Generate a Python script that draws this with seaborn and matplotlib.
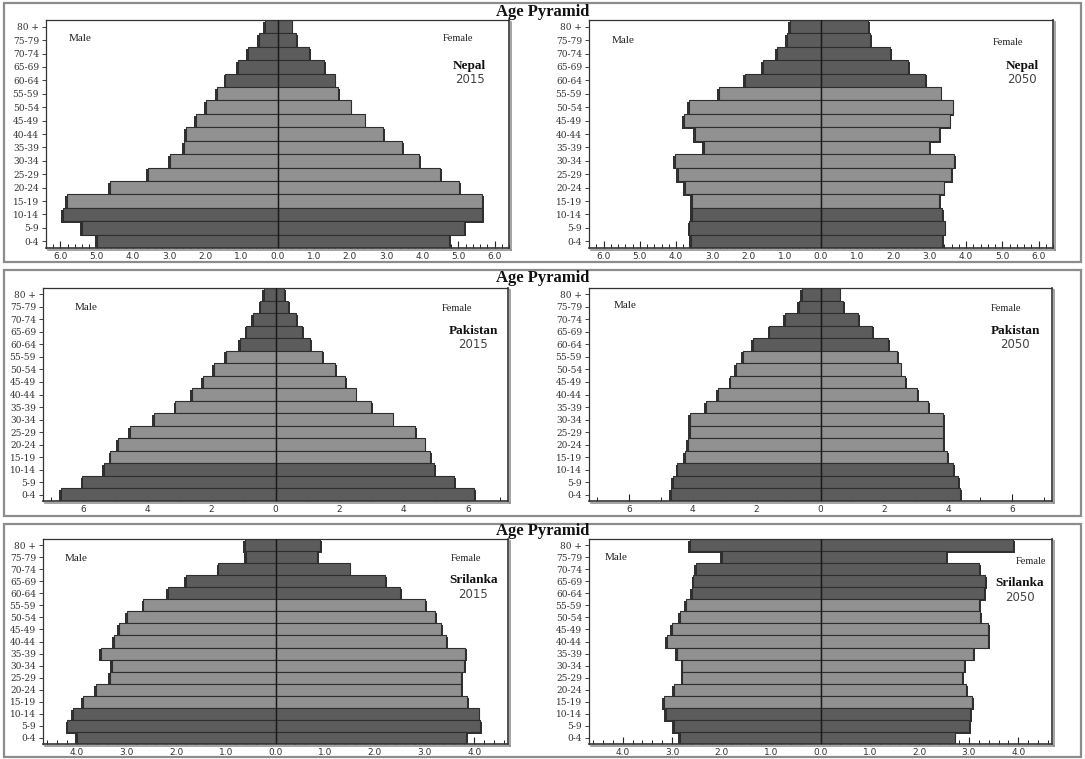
import numpy as np
import pandas as pd
import matplotlib
matplotlib.use("Agg")
import matplotlib.pyplot as plt
import matplotlib.patheffects as pe
from matplotlib.patches import Rectangle
from matplotlib.ticker import MultipleLocator, FuncFormatter
import seaborn as sns

# ---------------- data (bottom-up: 0-4 ... 80 +) ----------------
ages = ["0-4", "5-9", "10-14", "15-19", "20-24", "25-29", "30-34", "35-39", "40-44",
        "45-49", "50-54", "55-59", "60-64", "65-69", "70-74", "75-79", "80 +"]

nepal_2015_male = [5.00, 5.41, 5.94, 5.83, 4.63, 3.58, 2.98, 2.59, 2.54, 2.26, 1.99, 1.67, 1.44, 1.10, 0.81, 0.52, 0.35]
nepal_2015_female = [4.75, 5.15, 5.66, 5.66, 5.03, 4.50, 3.92, 3.44, 2.92, 2.41, 2.02, 1.67, 1.58, 1.28, 0.88, 0.51, 0.39]
nepal_2050_male = [3.58, 3.63, 3.56, 3.56, 3.76, 3.95, 4.02, 3.24, 3.47, 3.78, 3.65, 2.82, 2.09, 1.61, 1.22, 0.95, 0.85]
nepal_2050_female = [3.35, 3.41, 3.35, 3.26, 3.38, 3.58, 3.67, 2.98, 3.26, 3.55, 3.63, 3.30, 2.88, 2.40, 1.91, 1.35, 1.30]

pakistan_2015_male = [6.70, 6.02, 5.35, 5.15, 4.91, 4.55, 3.80, 3.12, 2.61, 2.26, 1.91, 1.54, 1.12, 0.91, 0.71, 0.47, 0.37]
pakistan_2015_female = [6.19, 5.58, 4.95, 4.81, 4.65, 4.36, 3.65, 2.98, 2.50, 2.16, 1.85, 1.46, 1.07, 0.84, 0.63, 0.40, 0.28]
pakistan_2050_male = [4.68, 4.63, 4.48, 4.25, 4.14, 4.10, 4.10, 3.60, 3.22, 2.82, 2.65, 2.43, 2.12, 1.60, 1.12, 0.68, 0.57]
pakistan_2050_female = [4.38, 4.30, 4.15, 3.96, 3.83, 3.83, 3.83, 3.36, 3.03, 2.66, 2.51, 2.40, 2.11, 1.62, 1.17, 0.72, 0.60]

srilanka_2015_male = [3.99, 4.19, 4.08, 3.88, 3.62, 3.33, 3.29, 3.51, 3.25, 3.15, 2.99, 2.66, 2.17, 1.81, 1.15, 0.60, 0.62]
srilanka_2015_female = [3.84, 4.12, 4.09, 3.85, 3.73, 3.73, 3.79, 3.82, 3.43, 3.34, 3.21, 3.01, 2.50, 2.21, 1.49, 0.83, 0.89]
srilanka_2050_male = [2.84, 2.97, 3.12, 3.16, 2.97, 2.79, 2.79, 2.91, 3.11, 3.01, 2.84, 2.72, 2.60, 2.57, 2.52, 1.99, 2.64]
srilanka_2050_female = [2.71, 3.01, 3.03, 3.07, 2.94, 2.86, 2.91, 3.08, 3.38, 3.38, 3.23, 3.20, 3.30, 3.33, 3.21, 2.54, 3.89]

countries = ["Nepal", "Pakistan", "Srilanka"]
years = ["2015", "2050"]

DARK = "#5c5c5c"
LIGHT = "#919191"
EDGE = "#2e2e2e"
dependent = {"0-4", "5-9", "10-14", "60-64", "65-69", "70-74", "75-79", "80 +"}
palette = {a: (DARK if a in dependent else LIGHT) for a in ages}

sns.set_theme(style="white")
plt.rcParams["font.family"] = ["DejaVu Sans"]

W, H = 1085, 759
fig = plt.figure(figsize=(W / 100, H / 100), dpi=100)
fig.patch.set_facecolor("white")

def fx(px):
    return px / W

def fy(py):
    return 1 - py / H

# panel layout in pixels: (x0, x1, y0, y1)
rows = [
    dict(box=(4, 1081, 3, 262), title_y=12, y=(20, 248), left=(46, 509), right=(589, 1053),
         xlim=6.4, major=1.0, minor=0.2, fmt="{:.1f}"),
    dict(box=(4, 1081, 270, 516), title_y=278, y=(288, 501), left=(43, 508), right=(589, 1052),
         xlim=7.25, major=2.0, minor=1.0, fmt="{:.0f}"),
    dict(box=(4, 1081, 524, 757), title_y=531, y=(539, 744), left=(43, 508), right=(589, 1052),
         xlim=4.68, major=1.0, minor=0.2, fmt="{:.1f}"),
]

data = {
    ("Nepal", "2015"): (nepal_2015_male, nepal_2015_female),
    ("Nepal", "2050"): (nepal_2050_male, nepal_2050_female),
    ("Pakistan", "2015"): (pakistan_2015_male, pakistan_2015_female),
    ("Pakistan", "2050"): (pakistan_2050_male, pakistan_2050_female),
    ("Srilanka", "2015"): (srilanka_2015_male, srilanka_2015_female),
    ("Srilanka", "2050"): (srilanka_2050_male, srilanka_2050_female),
}

# text placements (axes fraction) per panel
labels_pos = {
    ("Nepal", "2015"): dict(male=(0.074, 0.92), female=(0.89, 0.92), name=(0.915, 0.80), year=(0.915, 0.738)),
    ("Nepal", "2050"): dict(male=(0.073, 0.91), female=(0.903, 0.90), name=(0.933, 0.80), year=(0.933, 0.738)),
    ("Pakistan", "2015"): dict(male=(0.092, 0.91), female=(0.89, 0.905), name=(0.925, 0.80), year=(0.925, 0.733)),
    ("Pakistan", "2050"): dict(male=(0.078, 0.92), female=(0.90, 0.905), name=(0.92, 0.80), year=(0.92, 0.733)),
    ("Srilanka", "2015"): dict(male=(0.071, 0.907), female=(0.91, 0.907), name=(0.925, 0.80), year=(0.925, 0.73)),
    ("Srilanka", "2050"): dict(male=(0.058, 0.91), female=(0.955, 0.89), name=(0.93, 0.785), year=(0.93, 0.715)),
}

order_top_down = ages[::-1]

for country, row in zip(countries, rows):
    bx0, bx1, by0, by1 = row["box"]
    fig.add_artist(Rectangle((fx(bx0), fy(by1)), fx(bx1 - bx0), (by1 - by0) / H,
                             transform=fig.transFigure, fill=False, edgecolor="#8c8c8c", lw=1.6))
    fig.text(0.5, fy(row["title_y"]), "Age Pyramid", ha="center", va="center",
             fontsize=12, fontweight="bold", family="Liberation Serif", color="#111")
    for year, (px0, px1) in zip(years, [row["left"], row["right"]]):
        y0, y1 = row["y"]
        ax = fig.add_axes([fx(px0), fy(y1), fx(px1 - px0), (y1 - y0) / H])
        male, female = data[(country, year)]
        df = pd.DataFrame({"age": ages, "male": -np.array(male), "female": np.array(female)})
        for col, off in (("male", -1.3), ("female", 1.3)):
            n_before = len(ax.patches)
            sns.barplot(data=df, x=col, y="age", hue="age", order=order_top_down,
                        hue_order=order_top_down, palette=palette, legend=False,
                        orient="h", width=1.0, dodge=False, edgecolor=EDGE, linewidth=0.8,
                        saturation=1.0, ax=ax)
            for p in ax.patches[n_before:]:
                p.set_path_effects([pe.SimplePatchShadow(offset=(off, -1.3), shadow_rgbFace="#262626", alpha=0.95),
                                    pe.Normal()])
        ax.axvline(0, color="#1a1a1a", lw=1.0, zorder=5)
        lim = row["xlim"]
        ax.set_xlim(-lim, lim)
        ax.set_ylim(len(ages) - 0.5, -0.5)
        ax.set_xlabel("")
        ax.set_ylabel("")
        ax.xaxis.set_major_locator(MultipleLocator(row["major"]))
        ax.xaxis.set_minor_locator(MultipleLocator(row["minor"]))
        fmt = row["fmt"]
        ax.xaxis.set_major_formatter(FuncFormatter(lambda v, pos, f=fmt: f.format(abs(v) + 0.0)))
        ax.tick_params(axis="x", which="major", direction="in", length=5, width=0.8,
                       color="#222", labelsize=6.5, labelcolor="#333", pad=3, bottom=True)
        ax.tick_params(axis="x", which="minor", direction="in", length=3, width=0.7,
                       color="#222", bottom=True)
        ax.tick_params(axis="y", which="major", direction="out", length=3, width=0.7,
                       color="#444", labelsize=6.5, labelcolor="#333", pad=2, left=True)
        for lab in ax.get_yticklabels():
            lab.set_family("DejaVu Serif")
        for s in ax.spines.values():
            s.set_visible(True)
            s.set_color("#333")
            s.set_linewidth(0.9)
        for sname in ("right", "bottom"):
            ax.spines[sname].set_linewidth(1.2)
            ax.spines[sname].set_path_effects([pe.SimpleLineShadow(offset=(1.2, -1.2), shadow_color="#888", alpha=0.9),
                                               pe.Normal()])
        pos = labels_pos[(country, year)]
        ax.text(*pos["male"], "Male", transform=ax.transAxes, ha="center", va="center",
                fontsize=8, family="Liberation Serif", color="#222")
        ax.text(*pos["female"], "Female", transform=ax.transAxes, ha="center", va="center",
                fontsize=7.5, family="Liberation Serif", color="#222")
        ax.text(*pos["name"], country, transform=ax.transAxes, ha="center", va="center",
                fontsize=9.5, fontweight="bold", family="Liberation Serif", color="#111")
        ax.text(*pos["year"], year, transform=ax.transAxes, ha="center", va="center",
                fontsize=8.5, family="DejaVu Sans", color="#444")

fig.savefig("out.png", dpi=100, facecolor="white")
